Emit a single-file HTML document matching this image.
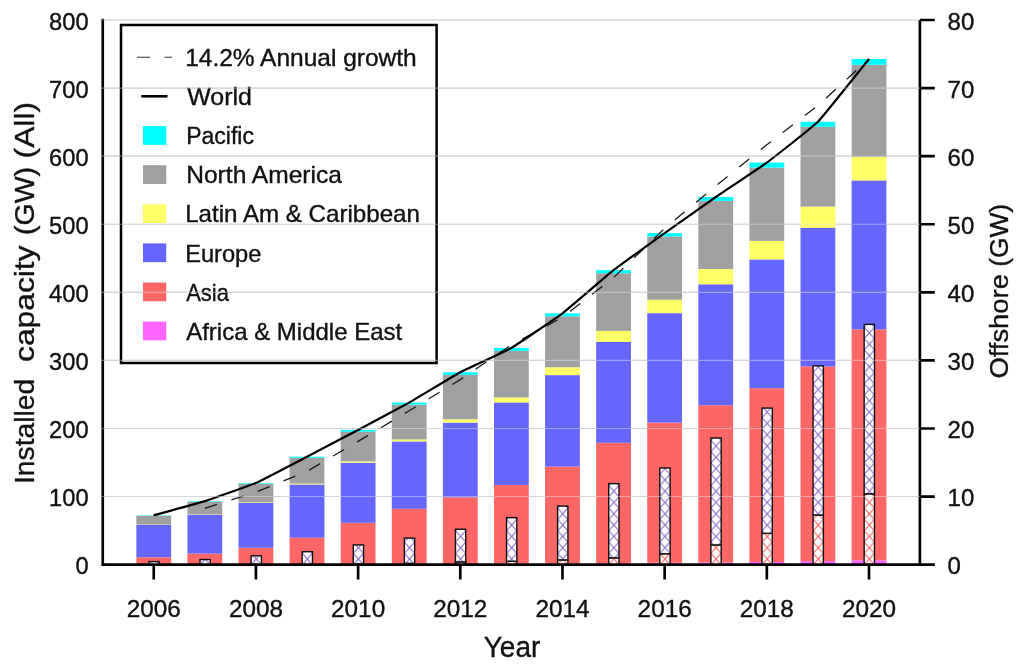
<!DOCTYPE html>
<html lang="en"><head><meta charset="utf-8"><title>Installed wind capacity</title>
<style>html,body{margin:0;padding:0;background:#fff}svg{display:block}text{font-family:"Liberation Sans", sans-serif;fill:#111}</style></head><body>
<svg width="1024" height="665" viewBox="0 0 1024 665">
<defs><pattern id="hE0" width="10.3" height="11.3" patternUnits="userSpaceOnUse" x="148.90" y="564.65"><rect width="10.3" height="11.3" fill="#fff"/><path d="M0 0L10.3 11.3M10.3 0L0 11.3" stroke="#8a63c6" stroke-width="1.1" fill="none"/></pattern><pattern id="hA0" width="10.3" height="11.3" patternUnits="userSpaceOnUse" x="148.90" y="564.65"><rect width="10.3" height="11.3" fill="#fff"/><path d="M0 0L10.3 11.3M10.3 0L0 11.3" stroke="#ff5a5a" stroke-width="1.1" fill="none"/></pattern><pattern id="hE1" width="10.3" height="11.3" patternUnits="userSpaceOnUse" x="199.99" y="564.65"><rect width="10.3" height="11.3" fill="#fff"/><path d="M0 0L10.3 11.3M10.3 0L0 11.3" stroke="#8a63c6" stroke-width="1.1" fill="none"/></pattern><pattern id="hA1" width="10.3" height="11.3" patternUnits="userSpaceOnUse" x="199.99" y="564.65"><rect width="10.3" height="11.3" fill="#fff"/><path d="M0 0L10.3 11.3M10.3 0L0 11.3" stroke="#ff5a5a" stroke-width="1.1" fill="none"/></pattern><pattern id="hE2" width="10.3" height="11.3" patternUnits="userSpaceOnUse" x="251.08" y="564.65"><rect width="10.3" height="11.3" fill="#fff"/><path d="M0 0L10.3 11.3M10.3 0L0 11.3" stroke="#8a63c6" stroke-width="1.1" fill="none"/></pattern><pattern id="hA2" width="10.3" height="11.3" patternUnits="userSpaceOnUse" x="251.08" y="564.65"><rect width="10.3" height="11.3" fill="#fff"/><path d="M0 0L10.3 11.3M10.3 0L0 11.3" stroke="#ff5a5a" stroke-width="1.1" fill="none"/></pattern><pattern id="hE3" width="10.3" height="11.3" patternUnits="userSpaceOnUse" x="302.17" y="564.65"><rect width="10.3" height="11.3" fill="#fff"/><path d="M0 0L10.3 11.3M10.3 0L0 11.3" stroke="#8a63c6" stroke-width="1.1" fill="none"/></pattern><pattern id="hA3" width="10.3" height="11.3" patternUnits="userSpaceOnUse" x="302.17" y="564.65"><rect width="10.3" height="11.3" fill="#fff"/><path d="M0 0L10.3 11.3M10.3 0L0 11.3" stroke="#ff5a5a" stroke-width="1.1" fill="none"/></pattern><pattern id="hE4" width="10.3" height="11.3" patternUnits="userSpaceOnUse" x="353.26" y="564.65"><rect width="10.3" height="11.3" fill="#fff"/><path d="M0 0L10.3 11.3M10.3 0L0 11.3" stroke="#8a63c6" stroke-width="1.1" fill="none"/></pattern><pattern id="hA4" width="10.3" height="11.3" patternUnits="userSpaceOnUse" x="353.26" y="564.65"><rect width="10.3" height="11.3" fill="#fff"/><path d="M0 0L10.3 11.3M10.3 0L0 11.3" stroke="#ff5a5a" stroke-width="1.1" fill="none"/></pattern><pattern id="hE5" width="10.3" height="11.3" patternUnits="userSpaceOnUse" x="404.35" y="564.65"><rect width="10.3" height="11.3" fill="#fff"/><path d="M0 0L10.3 11.3M10.3 0L0 11.3" stroke="#8a63c6" stroke-width="1.1" fill="none"/></pattern><pattern id="hA5" width="10.3" height="11.3" patternUnits="userSpaceOnUse" x="404.35" y="564.65"><rect width="10.3" height="11.3" fill="#fff"/><path d="M0 0L10.3 11.3M10.3 0L0 11.3" stroke="#ff5a5a" stroke-width="1.1" fill="none"/></pattern><pattern id="hE6" width="10.3" height="11.3" patternUnits="userSpaceOnUse" x="455.44" y="564.65"><rect width="10.3" height="11.3" fill="#fff"/><path d="M0 0L10.3 11.3M10.3 0L0 11.3" stroke="#8a63c6" stroke-width="1.1" fill="none"/></pattern><pattern id="hA6" width="10.3" height="11.3" patternUnits="userSpaceOnUse" x="455.44" y="564.65"><rect width="10.3" height="11.3" fill="#fff"/><path d="M0 0L10.3 11.3M10.3 0L0 11.3" stroke="#ff5a5a" stroke-width="1.1" fill="none"/></pattern><pattern id="hE7" width="10.3" height="11.3" patternUnits="userSpaceOnUse" x="506.53" y="564.65"><rect width="10.3" height="11.3" fill="#fff"/><path d="M0 0L10.3 11.3M10.3 0L0 11.3" stroke="#8a63c6" stroke-width="1.1" fill="none"/></pattern><pattern id="hA7" width="10.3" height="11.3" patternUnits="userSpaceOnUse" x="506.53" y="564.65"><rect width="10.3" height="11.3" fill="#fff"/><path d="M0 0L10.3 11.3M10.3 0L0 11.3" stroke="#ff5a5a" stroke-width="1.1" fill="none"/></pattern><pattern id="hE8" width="10.3" height="11.3" patternUnits="userSpaceOnUse" x="557.62" y="564.65"><rect width="10.3" height="11.3" fill="#fff"/><path d="M0 0L10.3 11.3M10.3 0L0 11.3" stroke="#8a63c6" stroke-width="1.1" fill="none"/></pattern><pattern id="hA8" width="10.3" height="11.3" patternUnits="userSpaceOnUse" x="557.62" y="564.65"><rect width="10.3" height="11.3" fill="#fff"/><path d="M0 0L10.3 11.3M10.3 0L0 11.3" stroke="#ff5a5a" stroke-width="1.1" fill="none"/></pattern><pattern id="hE9" width="10.3" height="11.3" patternUnits="userSpaceOnUse" x="608.71" y="564.65"><rect width="10.3" height="11.3" fill="#fff"/><path d="M0 0L10.3 11.3M10.3 0L0 11.3" stroke="#8a63c6" stroke-width="1.1" fill="none"/></pattern><pattern id="hA9" width="10.3" height="11.3" patternUnits="userSpaceOnUse" x="608.71" y="564.65"><rect width="10.3" height="11.3" fill="#fff"/><path d="M0 0L10.3 11.3M10.3 0L0 11.3" stroke="#ff5a5a" stroke-width="1.1" fill="none"/></pattern><pattern id="hE10" width="10.3" height="11.3" patternUnits="userSpaceOnUse" x="659.80" y="564.65"><rect width="10.3" height="11.3" fill="#fff"/><path d="M0 0L10.3 11.3M10.3 0L0 11.3" stroke="#8a63c6" stroke-width="1.1" fill="none"/></pattern><pattern id="hA10" width="10.3" height="11.3" patternUnits="userSpaceOnUse" x="659.80" y="564.65"><rect width="10.3" height="11.3" fill="#fff"/><path d="M0 0L10.3 11.3M10.3 0L0 11.3" stroke="#ff5a5a" stroke-width="1.1" fill="none"/></pattern><pattern id="hE11" width="10.3" height="11.3" patternUnits="userSpaceOnUse" x="710.89" y="564.65"><rect width="10.3" height="11.3" fill="#fff"/><path d="M0 0L10.3 11.3M10.3 0L0 11.3" stroke="#8a63c6" stroke-width="1.1" fill="none"/></pattern><pattern id="hA11" width="10.3" height="11.3" patternUnits="userSpaceOnUse" x="710.89" y="564.65"><rect width="10.3" height="11.3" fill="#fff"/><path d="M0 0L10.3 11.3M10.3 0L0 11.3" stroke="#ff5a5a" stroke-width="1.1" fill="none"/></pattern><pattern id="hE12" width="10.3" height="11.3" patternUnits="userSpaceOnUse" x="761.98" y="564.65"><rect width="10.3" height="11.3" fill="#fff"/><path d="M0 0L10.3 11.3M10.3 0L0 11.3" stroke="#8a63c6" stroke-width="1.1" fill="none"/></pattern><pattern id="hA12" width="10.3" height="11.3" patternUnits="userSpaceOnUse" x="761.98" y="564.65"><rect width="10.3" height="11.3" fill="#fff"/><path d="M0 0L10.3 11.3M10.3 0L0 11.3" stroke="#ff5a5a" stroke-width="1.1" fill="none"/></pattern><pattern id="hE13" width="10.3" height="11.3" patternUnits="userSpaceOnUse" x="813.07" y="564.65"><rect width="10.3" height="11.3" fill="#fff"/><path d="M0 0L10.3 11.3M10.3 0L0 11.3" stroke="#8a63c6" stroke-width="1.1" fill="none"/></pattern><pattern id="hA13" width="10.3" height="11.3" patternUnits="userSpaceOnUse" x="813.07" y="564.65"><rect width="10.3" height="11.3" fill="#fff"/><path d="M0 0L10.3 11.3M10.3 0L0 11.3" stroke="#ff5a5a" stroke-width="1.1" fill="none"/></pattern><pattern id="hE14" width="10.3" height="11.3" patternUnits="userSpaceOnUse" x="864.16" y="564.65"><rect width="10.3" height="11.3" fill="#fff"/><path d="M0 0L10.3 11.3M10.3 0L0 11.3" stroke="#8a63c6" stroke-width="1.1" fill="none"/></pattern><pattern id="hA14" width="10.3" height="11.3" patternUnits="userSpaceOnUse" x="864.16" y="564.65"><rect width="10.3" height="11.3" fill="#fff"/><path d="M0 0L10.3 11.3M10.3 0L0 11.3" stroke="#ff5a5a" stroke-width="1.1" fill="none"/></pattern></defs>
<rect width="1024" height="665" fill="#fff"/>
<path d="M101.25 496.57H919.9M101.25 428.49H919.9M101.25 360.41H919.9M101.25 292.33H919.9M101.25 224.25H919.9M101.25 156.17H919.9M101.25 88.09H919.9M101.25 20.01H919.9" stroke="#c6c6c6" stroke-width="1.1" fill="none"/>
<rect x="136.35" y="564.38" width="34.8" height="0.27" fill="#ff66ff"/>
<rect x="136.35" y="557.23" width="34.8" height="7.15" fill="#ff6666"/>
<rect x="136.35" y="524.69" width="34.8" height="32.54" fill="#6666ff"/>
<rect x="136.35" y="524.41" width="34.8" height="0.27" fill="#ffff66"/>
<rect x="136.35" y="515.77" width="34.8" height="8.65" fill="#a0a0a0"/>
<rect x="136.35" y="515.36" width="34.8" height="0.41" fill="#00ffff"/>
<rect x="187.44" y="564.31" width="34.8" height="0.34" fill="#ff66ff"/>
<rect x="187.44" y="553.62" width="34.8" height="10.69" fill="#ff6666"/>
<rect x="187.44" y="514.61" width="34.8" height="39.01" fill="#6666ff"/>
<rect x="187.44" y="514.27" width="34.8" height="0.34" fill="#ffff66"/>
<rect x="187.44" y="501.68" width="34.8" height="12.59" fill="#a0a0a0"/>
<rect x="187.44" y="501.13" width="34.8" height="0.54" fill="#00ffff"/>
<rect x="238.53" y="564.24" width="34.8" height="0.41" fill="#ff66ff"/>
<rect x="238.53" y="547.70" width="34.8" height="16.54" fill="#ff6666"/>
<rect x="238.53" y="502.70" width="34.8" height="45.00" fill="#6666ff"/>
<rect x="238.53" y="502.22" width="34.8" height="0.48" fill="#ffff66"/>
<rect x="238.53" y="483.63" width="34.8" height="18.59" fill="#a0a0a0"/>
<rect x="238.53" y="482.95" width="34.8" height="0.68" fill="#00ffff"/>
<rect x="289.62" y="564.11" width="34.8" height="0.54" fill="#ff66ff"/>
<rect x="289.62" y="537.69" width="34.8" height="26.42" fill="#ff6666"/>
<rect x="289.62" y="484.45" width="34.8" height="53.24" fill="#6666ff"/>
<rect x="289.62" y="483.63" width="34.8" height="0.82" fill="#ffff66"/>
<rect x="289.62" y="457.76" width="34.8" height="25.87" fill="#a0a0a0"/>
<rect x="289.62" y="456.68" width="34.8" height="1.09" fill="#00ffff"/>
<rect x="340.71" y="563.90" width="34.8" height="0.75" fill="#ff66ff"/>
<rect x="340.71" y="522.85" width="34.8" height="41.05" fill="#ff6666"/>
<rect x="340.71" y="462.73" width="34.8" height="60.11" fill="#6666ff"/>
<rect x="340.71" y="461.37" width="34.8" height="1.36" fill="#ffff66"/>
<rect x="340.71" y="431.69" width="34.8" height="29.68" fill="#a0a0a0"/>
<rect x="340.71" y="429.92" width="34.8" height="1.77" fill="#00ffff"/>
<rect x="391.80" y="563.90" width="34.8" height="0.75" fill="#ff66ff"/>
<rect x="391.80" y="508.82" width="34.8" height="55.08" fill="#ff6666"/>
<rect x="391.80" y="441.43" width="34.8" height="67.40" fill="#6666ff"/>
<rect x="391.80" y="439.38" width="34.8" height="2.04" fill="#ffff66"/>
<rect x="391.80" y="404.66" width="34.8" height="34.72" fill="#a0a0a0"/>
<rect x="391.80" y="402.62" width="34.8" height="2.04" fill="#00ffff"/>
<rect x="442.89" y="563.83" width="34.8" height="0.82" fill="#ff66ff"/>
<rect x="442.89" y="497.32" width="34.8" height="66.51" fill="#ff6666"/>
<rect x="442.89" y="422.64" width="34.8" height="74.68" fill="#6666ff"/>
<rect x="442.89" y="419.30" width="34.8" height="3.34" fill="#ffff66"/>
<rect x="442.89" y="374.91" width="34.8" height="44.39" fill="#a0a0a0"/>
<rect x="442.89" y="372.26" width="34.8" height="2.66" fill="#00ffff"/>
<rect x="493.98" y="563.63" width="34.8" height="1.02" fill="#ff66ff"/>
<rect x="493.98" y="485.00" width="34.8" height="78.63" fill="#ff6666"/>
<rect x="493.98" y="402.48" width="34.8" height="82.51" fill="#6666ff"/>
<rect x="493.98" y="397.38" width="34.8" height="5.11" fill="#ffff66"/>
<rect x="493.98" y="350.88" width="34.8" height="46.50" fill="#a0a0a0"/>
<rect x="493.98" y="347.95" width="34.8" height="2.93" fill="#00ffff"/>
<rect x="545.07" y="563.56" width="34.8" height="1.09" fill="#ff66ff"/>
<rect x="545.07" y="466.61" width="34.8" height="96.95" fill="#ff6666"/>
<rect x="545.07" y="375.12" width="34.8" height="91.50" fill="#6666ff"/>
<rect x="545.07" y="367.22" width="34.8" height="7.90" fill="#ffff66"/>
<rect x="545.07" y="316.29" width="34.8" height="50.92" fill="#a0a0a0"/>
<rect x="545.07" y="313.30" width="34.8" height="3.00" fill="#00ffff"/>
<rect x="596.16" y="563.15" width="34.8" height="1.50" fill="#ff66ff"/>
<rect x="596.16" y="442.79" width="34.8" height="120.37" fill="#ff6666"/>
<rect x="596.16" y="341.89" width="34.8" height="100.89" fill="#6666ff"/>
<rect x="596.16" y="330.86" width="34.8" height="11.03" fill="#ffff66"/>
<rect x="596.16" y="273.27" width="34.8" height="57.60" fill="#a0a0a0"/>
<rect x="596.16" y="270.14" width="34.8" height="3.13" fill="#00ffff"/>
<rect x="647.25" y="562.74" width="34.8" height="1.91" fill="#ff66ff"/>
<rect x="647.25" y="422.64" width="34.8" height="140.11" fill="#ff6666"/>
<rect x="647.25" y="313.16" width="34.8" height="109.47" fill="#6666ff"/>
<rect x="647.25" y="299.68" width="34.8" height="13.48" fill="#ffff66"/>
<rect x="647.25" y="236.44" width="34.8" height="63.25" fill="#a0a0a0"/>
<rect x="647.25" y="233.10" width="34.8" height="3.34" fill="#00ffff"/>
<rect x="698.34" y="562.40" width="34.8" height="2.25" fill="#ff66ff"/>
<rect x="698.34" y="405.21" width="34.8" height="157.20" fill="#ff6666"/>
<rect x="698.34" y="284.30" width="34.8" height="120.91" fill="#6666ff"/>
<rect x="698.34" y="268.98" width="34.8" height="15.32" fill="#ffff66"/>
<rect x="698.34" y="200.90" width="34.8" height="68.08" fill="#a0a0a0"/>
<rect x="698.34" y="197.02" width="34.8" height="3.88" fill="#00ffff"/>
<rect x="749.43" y="561.99" width="34.8" height="2.66" fill="#ff66ff"/>
<rect x="749.43" y="388.19" width="34.8" height="173.81" fill="#ff6666"/>
<rect x="749.43" y="259.45" width="34.8" height="128.74" fill="#6666ff"/>
<rect x="749.43" y="240.79" width="34.8" height="18.65" fill="#ffff66"/>
<rect x="749.43" y="167.61" width="34.8" height="73.19" fill="#a0a0a0"/>
<rect x="749.43" y="162.64" width="34.8" height="4.97" fill="#00ffff"/>
<rect x="800.52" y="561.11" width="34.8" height="3.54" fill="#ff66ff"/>
<rect x="800.52" y="366.40" width="34.8" height="194.71" fill="#ff6666"/>
<rect x="800.52" y="227.65" width="34.8" height="138.75" fill="#6666ff"/>
<rect x="800.52" y="206.55" width="34.8" height="21.10" fill="#ffff66"/>
<rect x="800.52" y="126.76" width="34.8" height="79.79" fill="#a0a0a0"/>
<rect x="800.52" y="121.79" width="34.8" height="4.97" fill="#00ffff"/>
<rect x="851.61" y="560.29" width="34.8" height="4.36" fill="#ff66ff"/>
<rect x="851.61" y="329.30" width="34.8" height="231.00" fill="#ff6666"/>
<rect x="851.61" y="180.41" width="34.8" height="148.89" fill="#6666ff"/>
<rect x="851.61" y="156.92" width="34.8" height="23.49" fill="#ffff66"/>
<rect x="851.61" y="64.81" width="34.8" height="92.11" fill="#a0a0a0"/>
<rect x="851.61" y="58.95" width="34.8" height="5.85" fill="#00ffff"/>
<rect x="148.90" y="561.59" width="10.3" height="3.06" fill="url(#hE0)" stroke="#111" stroke-width="1.4"/>
<rect x="199.99" y="559.54" width="10.3" height="5.11" fill="url(#hE1)" stroke="#111" stroke-width="1.4"/>
<rect x="251.08" y="555.80" width="10.3" height="8.85" fill="url(#hE2)" stroke="#111" stroke-width="1.4"/>
<rect x="302.17" y="551.71" width="10.3" height="12.94" fill="url(#hE3)" stroke="#111" stroke-width="1.4"/>
<rect x="353.26" y="563.97" width="10.3" height="0.68" fill="url(#hA4)" stroke="#111" stroke-width="1.4"/>
<rect x="353.26" y="544.91" width="10.3" height="19.06" fill="url(#hE4)" stroke="#111" stroke-width="1.4"/>
<rect x="404.35" y="563.29" width="10.3" height="1.36" fill="url(#hA5)" stroke="#111" stroke-width="1.4"/>
<rect x="404.35" y="538.10" width="10.3" height="25.19" fill="url(#hE5)" stroke="#111" stroke-width="1.4"/>
<rect x="455.44" y="561.93" width="10.3" height="2.72" fill="url(#hA6)" stroke="#111" stroke-width="1.4"/>
<rect x="455.44" y="529.25" width="10.3" height="32.68" fill="url(#hE6)" stroke="#111" stroke-width="1.4"/>
<rect x="506.53" y="561.25" width="10.3" height="3.40" fill="url(#hA7)" stroke="#111" stroke-width="1.4"/>
<rect x="506.53" y="517.67" width="10.3" height="43.57" fill="url(#hE7)" stroke="#111" stroke-width="1.4"/>
<rect x="557.62" y="559.88" width="10.3" height="4.77" fill="url(#hA8)" stroke="#111" stroke-width="1.4"/>
<rect x="557.62" y="506.10" width="10.3" height="53.78" fill="url(#hE8)" stroke="#111" stroke-width="1.4"/>
<rect x="608.71" y="557.84" width="10.3" height="6.81" fill="url(#hA9)" stroke="#111" stroke-width="1.4"/>
<rect x="608.71" y="483.63" width="10.3" height="74.21" fill="url(#hE9)" stroke="#111" stroke-width="1.4"/>
<rect x="659.80" y="553.76" width="10.3" height="10.89" fill="url(#hA10)" stroke="#111" stroke-width="1.4"/>
<rect x="659.80" y="467.98" width="10.3" height="85.78" fill="url(#hE10)" stroke="#111" stroke-width="1.4"/>
<rect x="710.89" y="544.91" width="10.3" height="19.74" fill="url(#hA11)" stroke="#111" stroke-width="1.4"/>
<rect x="710.89" y="438.02" width="10.3" height="106.89" fill="url(#hE11)" stroke="#111" stroke-width="1.4"/>
<rect x="761.98" y="533.33" width="10.3" height="31.32" fill="url(#hA12)" stroke="#111" stroke-width="1.4"/>
<rect x="761.98" y="408.07" width="10.3" height="125.27" fill="url(#hE12)" stroke="#111" stroke-width="1.4"/>
<rect x="813.07" y="514.95" width="10.3" height="49.70" fill="url(#hA13)" stroke="#111" stroke-width="1.4"/>
<rect x="813.07" y="365.86" width="10.3" height="149.10" fill="url(#hE13)" stroke="#111" stroke-width="1.4"/>
<rect x="864.16" y="493.85" width="10.3" height="70.80" fill="url(#hA14)" stroke="#111" stroke-width="1.4"/>
<rect x="864.16" y="324.33" width="10.3" height="169.52" fill="url(#hE14)" stroke="#111" stroke-width="1.4"/>
<path d="M204.84 508.36 L255.93 492.11 L307.02 471.35 L358.11 441.34 L409.20 410.79 L460.29 379.61 L511.38 344.94 L562.47 317.18 L613.56 277.61 L664.65 228.31 L715.74 186.02 L766.83 144.81 L817.92 105.55 L869.01 58.90" stroke="#1a1a1a" stroke-width="1.3" stroke-dasharray="12.8 15" fill="none"/>
<path d="M153.75 515.36C156.30 514.65 199.73 502.75 204.84 501.13C209.95 499.51 250.82 485.18 255.93 482.95C261.04 480.73 301.91 459.33 307.02 456.68C312.13 454.02 353.00 432.62 358.11 429.92C363.22 427.22 404.09 405.50 409.20 402.62C414.31 399.74 455.18 374.99 460.29 372.26C465.40 369.52 506.27 350.90 511.38 347.95C516.49 345.00 557.36 317.19 562.47 313.30C567.58 309.41 608.45 274.15 613.56 270.14C618.67 266.13 659.54 236.76 664.65 233.10C669.76 229.44 710.63 200.54 715.74 197.02C720.85 193.49 761.72 166.40 766.83 162.64C771.94 158.88 812.81 126.97 817.92 121.79C823.03 116.61 866.46 62.09 869.01 58.95" stroke="#000" stroke-width="2.2" fill="none" stroke-linejoin="round"/>
<path d="M102.75 18.7V565.9499999999999M101.45 564.65H934.8M919.9 20V564.65M919.9 496.57H934.8M919.9 428.49H934.8M919.9 360.41H934.8M919.9 292.33H934.8M919.9 224.25H934.8M919.9 156.17H934.8M919.9 88.09H934.8M919.9 20.01H934.8M153.75 564.65V579.5M255.93 564.65V579.5M358.11 564.65V579.5M460.29 564.65V579.5M562.47 564.65V579.5M664.65 564.65V579.5M766.83 564.65V579.5M869.01 564.65V579.5" stroke="#000" stroke-width="2.67" fill="none"/>
<text id="l0" transform="translate(88.60 574.45) scale(1.0300 1)" font-size="23" text-anchor="end" stroke="#111" stroke-width="0.35">0</text>
<text id="r0" transform="translate(947.60 574.45) scale(1.0450 1)" font-size="23" stroke="#111" stroke-width="0.35">0</text>
<text id="l1" transform="translate(88.60 506.37) scale(1.0300 1)" font-size="23" text-anchor="end" stroke="#111" stroke-width="0.35">100</text>
<text id="r1" transform="translate(947.60 506.37) scale(1.0450 1)" font-size="23" stroke="#111" stroke-width="0.35">10</text>
<text id="l2" transform="translate(88.60 438.29) scale(1.0300 1)" font-size="23" text-anchor="end" stroke="#111" stroke-width="0.35">200</text>
<text id="r2" transform="translate(947.60 438.29) scale(1.0450 1)" font-size="23" stroke="#111" stroke-width="0.35">20</text>
<text id="l3" transform="translate(88.60 370.21) scale(1.0300 1)" font-size="23" text-anchor="end" stroke="#111" stroke-width="0.35">300</text>
<text id="r3" transform="translate(947.60 370.21) scale(1.0450 1)" font-size="23" stroke="#111" stroke-width="0.35">30</text>
<text id="l4" transform="translate(88.60 302.13) scale(1.0300 1)" font-size="23" text-anchor="end" stroke="#111" stroke-width="0.35">400</text>
<text id="r4" transform="translate(947.60 302.13) scale(1.0450 1)" font-size="23" stroke="#111" stroke-width="0.35">40</text>
<text id="l5" transform="translate(88.60 234.05) scale(1.0300 1)" font-size="23" text-anchor="end" stroke="#111" stroke-width="0.35">500</text>
<text id="r5" transform="translate(947.60 234.05) scale(1.0450 1)" font-size="23" stroke="#111" stroke-width="0.35">50</text>
<text id="l6" transform="translate(88.60 165.97) scale(1.0300 1)" font-size="23" text-anchor="end" stroke="#111" stroke-width="0.35">600</text>
<text id="r6" transform="translate(947.60 165.97) scale(1.0450 1)" font-size="23" stroke="#111" stroke-width="0.35">60</text>
<text id="l7" transform="translate(88.60 97.89) scale(1.0300 1)" font-size="23" text-anchor="end" stroke="#111" stroke-width="0.35">700</text>
<text id="r7" transform="translate(947.60 97.89) scale(1.0450 1)" font-size="23" stroke="#111" stroke-width="0.35">70</text>
<text id="l8" transform="translate(88.60 29.81) scale(1.0300 1)" font-size="23" text-anchor="end" stroke="#111" stroke-width="0.35">800</text>
<text id="r8" transform="translate(947.60 29.81) scale(1.0450 1)" font-size="23" stroke="#111" stroke-width="0.35">80</text>
<text id="x0" transform="translate(153.75 616.80) scale(1.0580 1)" font-size="23" text-anchor="middle" stroke="#111" stroke-width="0.35">2006</text>
<text id="x1" transform="translate(255.93 616.80) scale(1.0580 1)" font-size="23" text-anchor="middle" stroke="#111" stroke-width="0.35">2008</text>
<text id="x2" transform="translate(358.11 616.80) scale(1.0580 1)" font-size="23" text-anchor="middle" stroke="#111" stroke-width="0.35">2010</text>
<text id="x3" transform="translate(460.29 616.80) scale(1.0580 1)" font-size="23" text-anchor="middle" stroke="#111" stroke-width="0.35">2012</text>
<text id="x4" transform="translate(562.47 616.80) scale(1.0580 1)" font-size="23" text-anchor="middle" stroke="#111" stroke-width="0.35">2014</text>
<text id="x5" transform="translate(664.65 616.80) scale(1.0580 1)" font-size="23" text-anchor="middle" stroke="#111" stroke-width="0.35">2016</text>
<text id="x6" transform="translate(766.83 616.80) scale(1.0580 1)" font-size="23" text-anchor="middle" stroke="#111" stroke-width="0.35">2018</text>
<text id="x7" transform="translate(869.01 616.80) scale(1.0580 1)" font-size="23" text-anchor="middle" stroke="#111" stroke-width="0.35">2020</text>
<text id="year" transform="translate(512.00 657.30) scale(0.9655 1)" font-size="29" text-anchor="middle" stroke="#111" stroke-width="0.35">Year</text>
<text id="lt1" transform="translate(33.60 484.00) rotate(-90) scale(0.9902 1)" font-size="28.5" stroke="#111" stroke-width="0.35">Installed</text>
<text id="lt2" transform="translate(33.60 362.00) rotate(-90) scale(1.1154 1)" font-size="28.5" stroke="#111" stroke-width="0.35">capacity</text>
<text id="lt3" transform="translate(33.60 235.00) rotate(-90) scale(1.0002 1)" font-size="28.5" stroke="#111" stroke-width="0.35">(GW)</text>
<text id="lt4" transform="translate(33.60 158.40) rotate(-90) scale(1.1140 1)" font-size="28.5" stroke="#111" stroke-width="0.35">(All)</text>
<text id="rt1" transform="translate(1007.70 378.60) rotate(-90) scale(1.0344 1)" font-size="26.5" stroke="#111" stroke-width="0.35">Offshore</text>
<text id="rt2" transform="translate(1007.70 266.80) rotate(-90) scale(0.9937 1)" font-size="26.5" stroke="#111" stroke-width="0.35">(GW)</text>
<rect x="121" y="25" width="315.6" height="338" fill="none" stroke="#000" stroke-width="2.5"/>
<path d="M136.9 57.2H150M164.4 57.2H171.9" stroke="#333" stroke-width="1.15"/>
<path d="M141.25 96.3H167.5" stroke="#000" stroke-width="2.6"/>
<text id="g0" transform="translate(185.20 66.00) scale(1.0654 1)" font-size="23" stroke="#111" stroke-width="0.35">14.2% Annual growth</text>
<text id="g1" transform="translate(187.20 105.10) scale(1.0848 1)" font-size="23" stroke="#111" stroke-width="0.35">World</text>
<rect x="143" y="126.10" width="23.25" height="18.75" fill="#00ffff"/>
<text id="g2" transform="translate(186.20 144.20)" font-size="23" stroke="#111" stroke-width="0.35">Pacific</text>
<rect x="143" y="165.20" width="23.25" height="18.75" fill="#a0a0a0"/>
<text id="g3" transform="translate(186.20 183.30) scale(1.0694 1)" font-size="23" stroke="#111" stroke-width="0.35">North America</text>
<rect x="143" y="204.30" width="23.25" height="18.75" fill="#ffff66"/>
<text id="g4" transform="translate(185.20 222.40) scale(1.0498 1)" font-size="23" stroke="#111" stroke-width="0.35">Latin Am &amp; Caribbean</text>
<rect x="143" y="243.40" width="23.25" height="18.75" fill="#6666ff"/>
<text id="g5" transform="translate(185.20 261.50) scale(1.0278 1)" font-size="23" stroke="#111" stroke-width="0.35">Europe</text>
<rect x="143" y="282.50" width="23.25" height="18.75" fill="#ff6666"/>
<text id="g6" transform="translate(186.20 300.60) scale(0.9557 1)" font-size="23" stroke="#111" stroke-width="0.35">Asia</text>
<rect x="143" y="321.60" width="23.25" height="18.75" fill="#ff66ff"/>
<text id="g7" transform="translate(186.20 339.70) scale(1.0434 1)" font-size="23" stroke="#111" stroke-width="0.35">Africa &amp; Middle East</text>
<path d="M101.25 496.57H919.9M101.25 428.49H919.9M101.25 360.41H919.9M101.25 292.33H919.9M101.25 224.25H919.9M101.25 156.17H919.9M101.25 88.09H919.9M101.25 20.01H919.9" stroke="#e6e6e6" stroke-width="1.1" fill="none" opacity="0.45"/>
</svg></body></html>
